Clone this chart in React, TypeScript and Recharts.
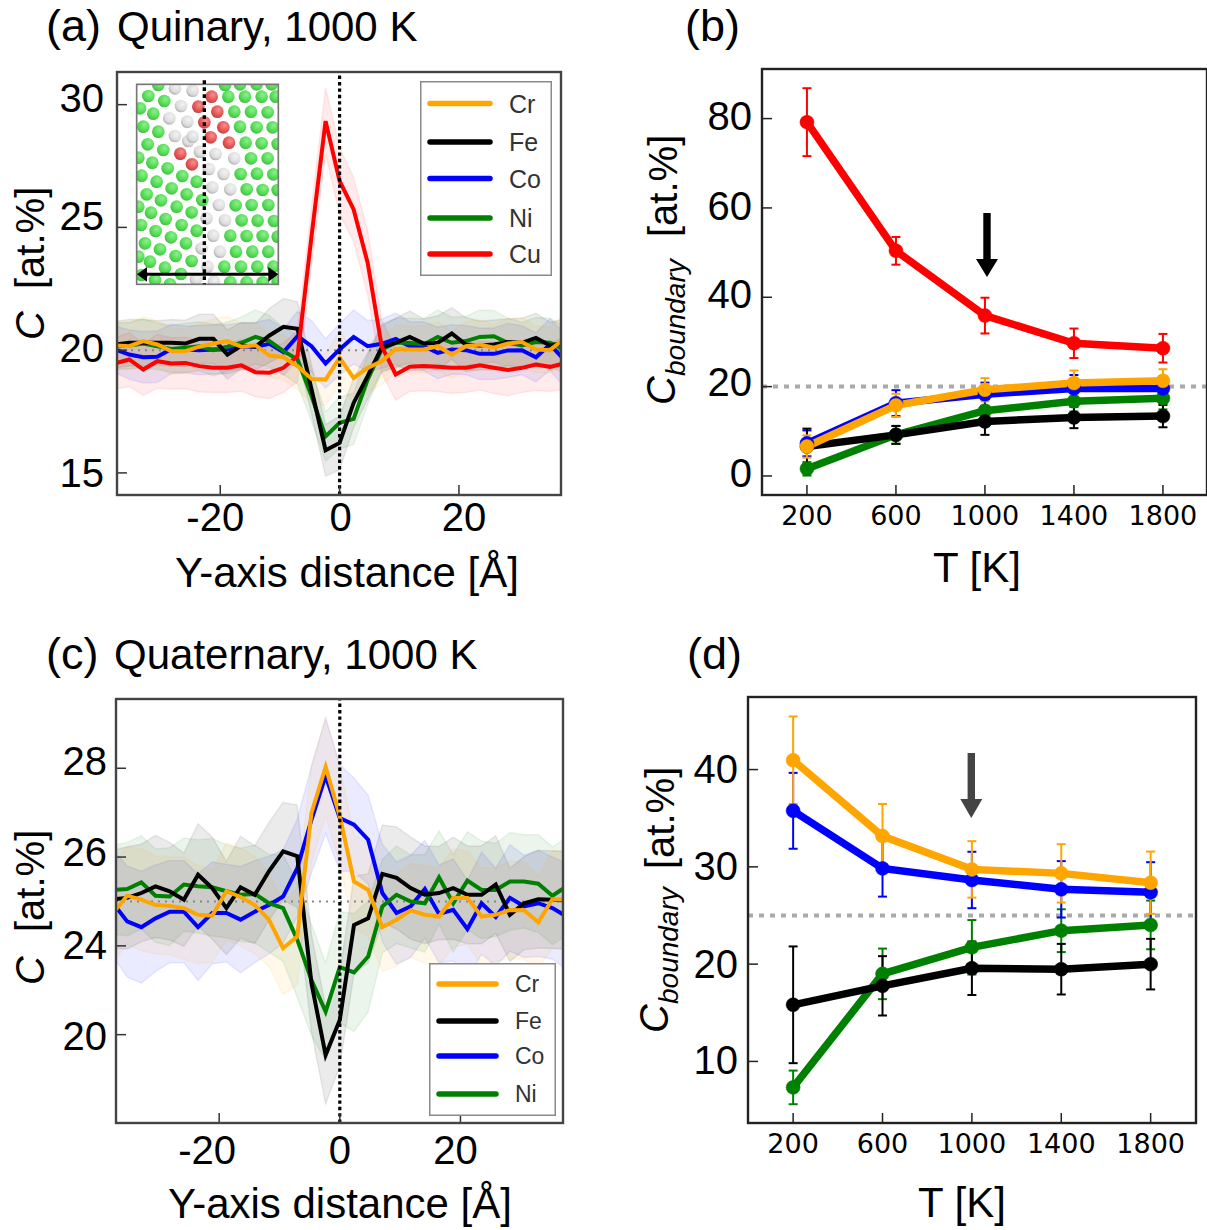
import { ComposedChart, Line, Area, XAxis, YAxis, ReferenceLine, ErrorBar, Legend } from "recharts";

const SANS = "Liberation Sans";
const DEJAVU = "DejaVu Sans";

const colors: Record<string, string> = { Cr: "#ffa500", Fe: "#000000", Co: "#0000ff", Ni: "#008000", Cu: "#ff0000" };

// distance along the boundary normal, one bin = 2.35 A
const distance = [
  -37.6, -35.25, -32.9, -30.55, -28.2, -25.85, -23.5, -21.15, -18.8, -16.45, -14.1, -11.75, -9.4, -7.05, -4.7, -2.35,
  0, 2.35, 4.7, 7.05, 9.4, 11.75, 14.1, 16.45, 18.8, 21.15, 23.5, 25.85, 28.2, 30.55, 32.9, 35.25, 37.6,
];

// (a) quinary profiles
const quinaryCr = [20.19, 20.16, 20.37, 20.23, 19.96, 19.96, 20.14, 20.27, 20.37, 20.14, 20.2, 19.78, 19.71, 19.35, 18.83, 18.8, 19.69, 18.87, 19.28, 19.55, 20.05, 20.03, 20.03, 20.16, 19.82, 20.16, 20.23, 20.1, 20.27, 20.33, 20.03, 20.0, 20.46];
const quinaryFe = [20.23, 20.3, 20.3, 20.3, 20.3, 20.27, 20.46, 20.46, 19.82, 20.19, 20.14, 20.6, 20.95, 20.87, 18.4, 15.92, 16.22, 17.85, 18.94, 20.1, 20.3, 20.54, 20.27, 20.3, 20.68, 20.23, 20.19, 20.23, 20.33, 20.3, 20.5, 20.19, 20.3];
const quinaryCo = [20.03, 19.82, 19.71, 19.73, 20.05, 20.03, 20.0, 20.03, 20.03, 20.16, 20.14, 20.26, 19.92, 20.57, 20.16, 19.46, 20.03, 20.54, 20.16, 20.26, 20.46, 20.16, 20.16, 19.89, 20.03, 20.0, 19.85, 19.85, 19.99, 20.0, 19.71, 20.23, 19.62];
const quinaryNi = [20.16, 20.19, 20.27, 20.16, 20.05, 20.1, 20.16, 20.0, 20.14, 20.3, 20.54, 20.37, 19.96, 19.62, 18.13, 16.49, 17.04, 17.2, 18.8, 20.03, 20.3, 20.3, 20.23, 20.54, 20.3, 20.37, 20.54, 20.57, 20.3, 20.19, 20.33, 20.3, 20.03];
const quinaryCu = [19.46, 19.62, 19.21, 19.55, 19.46, 19.48, 19.35, 19.28, 19.28, 19.38, 19.1, 19.08, 19.28, 19.76, 24.65, 29.33, 26.89, 25.73, 23.56, 20.16, 19.01, 19.32, 19.35, 19.32, 19.28, 19.28, 19.38, 19.28, 19.19, 19.28, 19.41, 19.32, 19.46];
const quinaryCrStd = [0.95, 0.95, 1.0, 0.95, 0.95, 0.9, 0.95, 1.0, 1.0, 0.95, 0.95, 0.9, 0.9, 0.95, 1.0, 1.05, 1.1, 1.05, 1.0, 0.95, 0.95, 0.95, 0.95, 1.0, 0.95, 1.0, 1.0, 0.95, 1.0, 1.0, 0.95, 0.95, 1.0];
const quinaryFeStd = [0.95, 0.95, 0.95, 0.9, 0.95, 0.95, 1.0, 1.0, 1.0, 0.95, 0.95, 1.1, 1.15, 1.1, 1.0, 1.05, 1.1, 1.0, 0.95, 0.95, 1.0, 1.05, 1.0, 1.1, 1.05, 1.1, 1.0, 1.0, 0.95, 1.0, 1.0, 0.95, 0.95];
const quinaryCoStd = [0.95, 1.0, 1.05, 1.05, 1.0, 0.95, 1.0, 1.0, 1.0, 0.95, 1.0, 1.0, 0.95, 1.0, 1.05, 1.0, 1.05, 1.1, 1.05, 1.0, 1.05, 1.0, 1.0, 1.05, 1.0, 1.0, 1.05, 1.05, 1.1, 1.0, 1.0, 1.05, 1.1];
const quinaryNiStd = [0.95, 0.95, 1.0, 0.95, 0.95, 1.0, 1.0, 1.05, 1.0, 1.05, 1.1, 1.05, 0.95, 1.0, 1.05, 1.0, 1.05, 1.05, 1.0, 0.95, 1.0, 1.0, 1.05, 1.1, 1.05, 1.0, 1.1, 1.05, 1.0, 0.95, 1.0, 1.0, 0.95];
const quinaryCuStd = [1.05, 1.1, 1.05, 1.1, 1.05, 1.05, 1.05, 1.0, 1.0, 1.05, 1.0, 1.05, 1.0, 1.05, 1.2, 1.35, 1.35, 1.3, 1.3, 1.1, 1.05, 1.0, 1.0, 1.0, 1.05, 1.0, 1.0, 1.05, 1.05, 1.0, 1.05, 1.0, 1.05];

// (c) quaternary profiles
const quaternaryCr = [24.74, 25.13, 25.04, 24.92, 24.9, 24.85, 24.7, 24.68, 25.23, 25.1, 24.92, 24.59, 23.95, 24.21, 26.99, 28.03, 26.92, 25.45, 25.26, 24.42, 24.59, 24.8, 24.7, 24.66, 25.08, 25.08, 24.66, 24.7, 24.81, 24.8, 24.53, 25.05, 25.04];
const quaternaryFe = [25.05, 25.08, 25.19, 25.34, 25.23, 25.04, 25.6, 25.3, 24.85, 25.32, 25.15, 25.68, 26.13, 26.02, 23.16, 21.54, 22.33, 24.47, 24.62, 25.62, 25.53, 25.3, 25.15, 25.19, 25.3, 25.15, 25.15, 25.38, 24.7, 24.96, 25.05, 25.04, 25.02];
const quaternaryCo = [24.96, 24.55, 24.42, 24.62, 24.77, 24.77, 24.42, 24.74, 24.74, 24.59, 24.77, 24.92, 25.11, 25.75, 26.84, 27.83, 26.88, 26.73, 26.39, 25.19, 24.74, 24.89, 25.28, 24.72, 24.81, 24.38, 24.96, 24.65, 25.08, 24.89, 24.96, 24.85, 24.66];
const quaternaryNi = [25.26, 25.28, 25.43, 25.13, 25.11, 25.38, 25.34, 25.32, 25.23, 25.15, 25.17, 24.96, 24.85, 24.14, 23.23, 22.52, 23.52, 23.4, 23.76, 24.89, 25.15, 25.0, 24.96, 25.54, 24.96, 25.47, 25.26, 25.26, 25.45, 25.45, 25.4, 25.13, 25.34];
const quaternaryCrStd = [1.1, 1.1, 1.15, 1.1, 1.1, 1.15, 1.1, 1.05, 1.1, 1.1, 1.1, 1.05, 1.05, 1.1, 1.1, 1.1, 1.1, 1.05, 1.05, 1.0, 1.05, 1.05, 1.1, 1.1, 1.1, 1.05, 1.1, 1.05, 1.1, 1.1, 1.05, 1.1, 1.1];
const quaternaryFeStd = [1.1, 1.15, 1.1, 1.15, 1.1, 1.05, 1.15, 1.15, 1.05, 1.15, 1.1, 1.1, 1.1, 1.15, 1.1, 1.1, 1.05, 1.1, 1.0, 1.1, 1.15, 1.15, 1.1, 1.05, 1.15, 1.1, 1.1, 1.1, 1.05, 1.05, 1.1, 1.1, 1.1];
const quaternaryCoStd = [1.2, 1.25, 1.26, 1.2, 1.15, 1.15, 1.2, 1.15, 1.1, 1.2, 1.15, 1.1, 1.05, 1.1, 1.2, 1.3, 1.2, 1.05, 1.0, 1.1, 1.15, 1.15, 1.1, 1.1, 1.15, 1.1, 1.15, 1.1, 1.2, 1.15, 1.2, 1.15, 1.2];
const quaternaryNiStd = [1.0, 1.05, 1.05, 1.05, 1.1, 1.05, 1.05, 1.1, 1.05, 1.05, 1.1, 1.1, 1.2, 1.3, 1.25, 1.1, 1.25, 1.33, 1.25, 1.05, 1.1, 1.05, 1.1, 1.05, 1.1, 1.1, 1.1, 1.05, 1.1, 1.05, 1.1, 1.1, 1.1];

// (b), (d) segregation against temperature
const temperature = [200, 600, 1000, 1400, 1800];
const boundaryQuinary: Record<string, number[]> = {
  Ni: [1.6, 9.2, 14.6, 16.7, 17.4],
  Co: [7.3, 16.3, 18.3, 19.6, 19.6],
  Fe: [6.6, 9.2, 12.2, 13.1, 13.4],
  Cu: [79.2, 50.4, 35.9, 29.7, 28.6],
  Cr: [6.6, 15.8, 19.3, 20.8, 21.3],
};
const boundaryQuinaryErr: Record<string, number[]> = {
  Ni: [1.5, 2.0, 2.5, 2.3, 2.5],
  Co: [2.9, 2.9, 2.6, 3.0, 2.7],
  Fe: [4.0, 2.0, 3.0, 2.4, 2.5],
  Cu: [7.6, 3.1, 4.0, 3.3, 3.2],
  Cr: [2.5, 2.6, 2.6, 2.8, 2.6],
};
const boundaryQuaternary: Record<string, number[]> = {
  Ni: [7.33, 19.0, 21.73, 23.44, 24.03],
  Co: [35.76, 29.84, 28.65, 27.69, 27.38],
  Fe: [15.82, 17.77, 19.58, 19.48, 20.0],
  Cr: [40.96, 33.16, 29.74, 29.33, 28.37],
};
const boundaryQuaternaryErr: Record<string, number[]> = {
  Ni: [1.73, 2.6, 2.8, 2.2, 2.5],
  Co: [3.9, 2.9, 2.9, 2.9, 3.1],
  Fe: [6.0, 3.05, 2.75, 2.6, 2.6],
  Cr: [4.5, 3.3, 2.9, 3.0, 3.2],
};

const xTicksProfile = [-20, 0, 20];
const yTicksQuinary = [15, 20, 25, 30];
const yTicksQuaternary = [22, 24, 26, 28];
// the published panel prints 20 on its lowest tick
const yTickTextQuaternary: Record<number, string> = { 22: "20", 24: "24", 26: "26", 28: "28" };
const xTicksTemp = [200, 600, 1000, 1400, 1800];
const yTicksBoundaryQuinary = [0, 20, 40, 60, 80];
const yTicksBoundaryQuaternary = [10, 20, 30, 40];

// labels in the figure sit a little off their ticks
const xShiftA: Record<number, number> = { [-20]: -5, 0: 1, 20: 5 };
const xShiftC: Record<number, number> = { [-20]: -12, 0: 0, 20: -5 };
const yShiftA: Record<number, number> = { 15: 0, 20: -3, 25: -12, 30: -7 };
const yShiftC: Record<number, number> = { 22: 1, 24: -1, 26: -5, 28: -8 };
const yShiftB: Record<number, number> = { 0: -3, 20: -5, 40: -4, 60: -2, 80: -3 };
const yShiftD: Record<number, number> = { 10: -2, 20: -1, 30: -1, 40: -1 };

// inset snapshot, atom centres in crop pixels
const atomsGreen = [[100, 30], [70, 63], [118, 78], [45, 100], [85, 116], [55, 155], [100, 170], [68, 208], [115, 225], [40, 248], [82, 263], [128, 280], [50, 302], [95, 320], [140, 340], [172, 303], [215, 320], [65, 358], [108, 376], [155, 395], [185, 358], [232, 375], [40, 395], [78, 413], [122, 432], [200, 412], [48, 450], [92, 468], [138, 487], [170, 450], [215, 467], [60, 505], [105, 523], [152, 543], [183, 505], [200, 558], [40, 545], [75, 560], [120, 578], [168, 597], [90, 615], [135, 628], [50, 600], [310, 65], [360, 65], [410, 65], [452, 65], [328, 110], [378, 110], [428, 112], [345, 155], [395, 157], [443, 157], [362, 203], [410, 205], [458, 207], [378, 250], [428, 250], [347, 297], [396, 296], [445, 298], [365, 343], [413, 345], [458, 345], [332, 391], [380, 390], [430, 390], [350, 436], [398, 437], [447, 438], [316, 482], [365, 483], [413, 483], [458, 485], [333, 530], [382, 530], [430, 530], [298, 575], [348, 575], [397, 575], [445, 575], [316, 622], [365, 622], [413, 622], [458, 620], [300, 30], [345, 28], [395, 28], [440, 28]];
const atomsGrey = [[150, 40], [203, 47], [168, 93], [133, 130], [187, 140], [150, 183], [190, 198], [203, 185], [225, 230], [272, 237], [328, 250], [252, 282], [296, 297], [262, 337], [316, 343], [282, 390], [245, 430], [300, 436], [265, 482], [230, 520], [285, 530], [248, 575], [213, 613], [267, 620]];
const atomsRed = [[260, 65], [220, 95], [277, 110], [238, 142], [295, 157], [257, 187], [312, 203], [166, 236], [201, 268]];

type Box = { left: number; right: number; top: number; bottom: number };

const boxA: Box = { left: 117, right: 561, top: 72, bottom: 495 };
const boxB: Box = { left: 762, right: 1207, top: 69, bottom: 495 };
const boxC: Box = { left: 116, right: 563, top: 699, bottom: 1123 };
const boxD: Box = { left: 748, right: 1196, top: 697, bottom: 1123 };

const PAD_L = 100;
const PAD_B = 70;
const PAD_T = 10;
const PAD_R = 10;

function profileTable(series: Record<string, number[]>, spread: Record<string, number[]>) {
  return distance.map((x, i) => {
    const row: Record<string, any> = { x };
    Object.keys(series).forEach((name) => {
      row[name] = series[name][i];
      row[name + "Band"] = [series[name][i] - spread[name][i], series[name][i] + spread[name][i]];
    });
    return row;
  });
}

function tempTable(series: Record<string, number[]>, errs: Record<string, number[]>) {
  return temperature.map((t, i) => {
    const row: Record<string, any> = { t };
    Object.keys(series).forEach((name) => {
      row[name] = series[name][i];
      row[name + "Err"] = errs[name][i];
    });
    return row;
  });
}

const wrapStyle = (box: Box): React.CSSProperties => ({
  position: "absolute",
  left: box.left - PAD_L,
  top: box.top - PAD_T,
});

const xTick = (font: string, size: number, shift?: Record<number, number>) => (p: any) => (
  <text x={p.x + (shift?.[p.payload.value] ?? 0)} y={p.y + size * 0.72} textAnchor="middle" fontFamily={font} fontSize={size} fill="#000">
    {p.payload.value}
  </text>
);

const yTick = (font: string, size: number, shift: Record<number, number>, label?: Record<number, string>) => (p: any) => (
  <text x={p.x} y={p.y + size * 0.36 + (shift[p.payload.value] ?? 0)} textAnchor="end" fontFamily={font} fontSize={size} fill="#000">
    {label ? label[p.payload.value] : p.payload.value}
  </text>
);

const LegendBox = ({ payload, order, rows, box, lineX, textX, fontSize }: any) => {
  const items = order.map((name: string) => payload.find((p: any) => p.value === name)).filter(Boolean);
  return (
    <svg width={box.w} height={box.h} style={{ display: "block" }}>
      <rect x={0.75} y={0.75} width={box.w - 1.5} height={box.h - 1.5} fill="#fff" stroke="#8a8a8a" strokeWidth={1.5} />
      {items.map((it: any, i: number) => (
        <g key={it.value}>
          <line x1={lineX[0]} x2={lineX[1]} y1={rows[i]} y2={rows[i]} stroke={it.color} strokeWidth={5.5} strokeLinecap="round" />
          <text x={textX} y={rows[i] + fontSize * 0.36} fontFamily={SANS} fontSize={fontSize} fill="#333">
            {it.value}
          </text>
        </g>
      ))}
    </svg>
  );
};

const ProfileChart = ({ box, series, spread, domainX, domainY, ticksY, tickText, midline, drawOrder, legendOrder, legend, xShift, yShift, xMargin, yMargin }: any) => {
  const data = profileTable(series, spread);
  return (
    <div style={wrapStyle(box)}>
      <ComposedChart
        width={box.right - box.left + PAD_L + PAD_R}
        height={box.bottom - box.top + PAD_T + PAD_B}
        data={data}
        margin={{ top: PAD_T, right: PAD_R, left: 0, bottom: 0 }}
      >
        <XAxis
          dataKey="x"
          type="number"
          domain={domainX}
          allowDataOverflow
          ticks={xTicksProfile}
          height={PAD_B}
          axisLine={false}
          tickSize={-10}
          tickMargin={xMargin}
          tickLine={{ stroke: "#333", strokeWidth: 1.5 }}
          tick={xTick(SANS, 40, xShift)}
          interval={0}
        />
        <YAxis
          type="number"
          domain={domainY}
          allowDataOverflow
          ticks={ticksY}
          width={PAD_L}
          axisLine={false}
          tickSize={-10}
          tickMargin={yMargin}
          tickLine={{ stroke: "#333", strokeWidth: 1.5 }}
          tick={yTick(SANS, 40, yShift, tickText)}
          interval={0}
        />
        {drawOrder.map((name: string) => (
          <Area
            key={name + "Band"}
            dataKey={name + "Band"}
            type="linear"
            stroke={colors[name]}
            strokeOpacity={0.08}
            strokeWidth={1.5}
            fill={colors[name]}
            fillOpacity={0.08}
            legendType="none"
            dot={false}
            activeDot={false}
            isAnimationActive={false}
          />
        ))}
        <ReferenceLine y={midline} stroke="#888" strokeWidth={2} strokeDasharray="2 5" />
        {drawOrder.map((name: string) => (
          <Line
            key={name}
            dataKey={name}
            name={name}
            type="linear"
            stroke={colors[name]}
            strokeWidth={4}
            dot={false}
            activeDot={false}
            isAnimationActive={false}
          />
        ))}
        <ReferenceLine x={0} stroke="#000" strokeWidth={3.2} strokeDasharray="3.4 3" />
        <Legend
          layout="horizontal"
          verticalAlign="middle"
          align="center"
          wrapperStyle={{ left: legend.left - box.left + PAD_L, top: legend.top - box.top + PAD_T, width: legend.w, height: legend.h }}
          content={(props: any) => (
            <LegendBox payload={props.payload} order={legendOrder} rows={legend.rows} box={legend} lineX={legend.lineX} textX={legend.textX} fontSize={legend.fontSize} />
          )}
        />
      </ComposedChart>
    </div>
  );
};

const TempChart = ({ box, series, errs, domainX, domainY, ticksY, midline, drawOrder, yShift }: any) => {
  const data = tempTable(series, errs);
  return (
    <div style={wrapStyle(box)}>
      <ComposedChart
        width={box.right - box.left + PAD_L + PAD_R}
        height={box.bottom - box.top + PAD_T + PAD_B}
        data={data}
        margin={{ top: PAD_T, right: PAD_R, left: 0, bottom: 0 }}
      >
        <XAxis
          dataKey="t"
          type="number"
          domain={domainX}
          allowDataOverflow
          ticks={xTicksTemp}
          height={PAD_B}
          axisLine={false}
          tickSize={-10}
          tickMargin={21}
          tickLine={{ stroke: "#222", strokeWidth: 1.5 }}
          tick={xTick(DEJAVU, 27)}
          interval={0}
        />
        <YAxis
          type="number"
          domain={domainY}
          allowDataOverflow
          ticks={ticksY}
          width={PAD_L}
          axisLine={false}
          tickSize={-10}
          tickMargin={20}
          tickLine={{ stroke: "#222", strokeWidth: 1.5 }}
          tick={yTick(SANS, 40, yShift)}
          interval={0}
        />
        <ReferenceLine y={midline} stroke="#aaa" strokeWidth={4} strokeDasharray="5 6" />
        {drawOrder.map((name: string) => (
          <Line
            key={name}
            dataKey={name}
            name={name}
            type="linear"
            stroke={colors[name]}
            strokeWidth={7.5}
            dot={{ r: 7, fill: colors[name], stroke: colors[name], strokeWidth: 0.5 }}
            activeDot={false}
            isAnimationActive={false}
          >
            <ErrorBar dataKey={name + "Err"} direction="y" width={4.5} strokeWidth={2} stroke={colors[name]} isAnimationActive={false} />
          </Line>
        ))}
      </ComposedChart>
    </div>
  );
};

const Atoms = ({ list, id }: { list: number[][]; id: string }) => (
  <>
    {list.map(([cx, cy], i) => (
      <circle key={i} cx={cx} cy={cy} r={19} fill={`url(#${id})`} />
    ))}
  </>
);

const Inset = () => (
  <g>
    <defs>
      <radialGradient id="atomGreen" cx="60%" cy="35%" r="70%">
        <stop offset="0%" stopColor="#8cf08c" />
        <stop offset="60%" stopColor="#55dd55" />
        <stop offset="100%" stopColor="#46b846" />
      </radialGradient>
      <radialGradient id="atomGrey" cx="60%" cy="35%" r="70%">
        <stop offset="0%" stopColor="#f2f2f2" />
        <stop offset="65%" stopColor="#dcdcdc" />
        <stop offset="100%" stopColor="#aaaaaa" />
      </radialGradient>
      <radialGradient id="atomRed" cx="60%" cy="35%" r="70%">
        <stop offset="0%" stopColor="#f59090" />
        <stop offset="60%" stopColor="#e85555" />
        <stop offset="100%" stopColor="#b84444" />
      </radialGradient>
      <clipPath id="insetClip">
        <rect x={35} y={28} width={425} height={600} />
      </clipPath>
    </defs>
    <g transform="translate(125 75) scale(0.3333)">
      <rect x={35} y={28} width={425} height={600} fill="#fff" />
      <g clipPath="url(#insetClip)">
        <Atoms list={atomsGreen} id="atomGreen" />
        <Atoms list={atomsGrey} id="atomGrey" />
        <Atoms list={atomsRed} id="atomRed" />
      </g>
      <rect x={35} y={28} width={425} height={600} fill="none" stroke="#777" strokeWidth={5} />
      <line x1={238} x2={238} y1={16} y2={628} stroke="#000" strokeWidth={10} strokeDasharray="11 10" />
      <line x1={55} x2={442} y1={598} y2={598} stroke="#000" strokeWidth={9} />
      <polygon points="36,598 66,576 66,620" fill="#000" />
      <polygon points="460,598 430,576 430,620" fill="#000" />
    </g>
  </g>
);

const DownArrow = ({ x, top, neck, tip, half, color }: any) => (
  <polygon
    points={`${x - 3.7},${top} ${x + 3.7},${top} ${x + 3.7},${neck} ${x + half},${neck} ${x},${tip} ${x - half},${neck} ${x - 3.7},${neck}`}
    fill={color}
  />
);

const Frame = ({ box, stroke }: { box: Box; stroke: string }) => (
  <rect x={box.left} y={box.top} width={box.right - box.left} height={box.bottom - box.top} fill="none" stroke={stroke} strokeWidth={2.4} />
);

const Label = ({ x, y, size = 42, font = SANS, children }: any) => (
  <text x={x} y={y} fontFamily={font} fontSize={size} fill="#000">
    {children}
  </text>
);

const Rot = ({ x, y, size = 40, italic = false, children }: any) => (
  <text transform={`translate(${x} ${y}) rotate(-90)`} fontFamily={SANS} fontSize={size} fontStyle={italic ? "italic" : "normal"} fill="#000">
    {children}
  </text>
);

const Overlay = () => (
  <svg width={1207} height={1230} style={{ position: "absolute", left: 0, top: 0, pointerEvents: "none" }}>
    <Frame box={boxA} stroke="#444" />
    <Frame box={boxB} stroke="#222" />
    <Frame box={boxC} stroke="#444" />
    <Frame box={boxD} stroke="#222" />
    <Inset />
    <DownArrow x={987} top={213} neck={259} tip={277} half={11} color="#000" />
    <DownArrow x={971.3} top={753} neck={799} tip={818} half={11} color="#444" />

    <Label x={46} y={41} size={45}>(a)</Label>
    <Label x={117} y={41}>Quinary, 1000 K</Label>
    <Label x={685} y={41} size={45}>(b)</Label>
    <Label x={46} y={669} size={45}>(c)</Label>
    <Label x={114} y={669}>Quaternary, 1000 K</Label>
    <Label x={687} y={669} size={45}>(d)</Label>

    <Label x={175} y={587}>Y-axis distance [Å]</Label>
    <Label x={168} y={1218}>Y-axis distance [Å]</Label>
    <Label x={933} y={582}>T [K]</Label>
    <Label x={918} y={1217}>T [K]</Label>

    <Rot x={44} y={340} italic>C</Rot>
    <Rot x={44} y={289}>[at.%]</Rot>
    <Rot x={44} y={985} italic>C</Rot>
    <Rot x={44} y={932}>[at.%]</Rot>

    <Rot x={675} y={405} italic>C</Rot>
    <Rot x={685} y={376} size={28} italic>boundary</Rot>
    <Rot x={677} y={237}>[at.%]</Rot>
    <Rot x={668} y={1033} italic>C</Rot>
    <Rot x={678} y={1004} size={28} italic>boundary</Rot>
    <Rot x={674} y={869}>[at.%]</Rot>
  </svg>
);

export default function App() {
  return (
    <div style={{ position: "absolute", left: 0, top: 0, width: 1207, height: 1230, background: "#fff" }}>
      <ProfileChart
        box={boxA}
        series={{ Cr: quinaryCr, Fe: quinaryFe, Co: quinaryCo, Ni: quinaryNi, Cu: quinaryCu }}
        spread={{ Cr: quinaryCrStd, Fe: quinaryFeStd, Co: quinaryCoStd, Ni: quinaryNiStd, Cu: quinaryCuStd }}
        domainX={[-37.3, 37.1]}
        domainY={[14.1, 31.33]}
        ticksY={yTicksQuinary}
        midline={20}
        drawOrder={["Co", "Ni", "Fe", "Cu", "Cr"]}
        legendOrder={["Cr", "Fe", "Co", "Ni", "Cu"]}
        legend={{ left: 420, top: 81, w: 132, h: 195, rows: [22.5, 61, 97.5, 137, 173], lineX: [10, 70], textX: 89, fontSize: 25 }}
        xShift={xShiftA}
        yShift={yShiftA}
        xMargin={17}
        yMargin={23}
      />
      <TempChart
        box={boxB}
        series={boundaryQuinary}
        errs={boundaryQuinaryErr}
        domainX={[-2, 1998]}
        domainY={[-4.26, 91.1]}
        ticksY={yTicksBoundaryQuinary}
        midline={20}
        drawOrder={["Ni", "Co", "Fe", "Cu", "Cr"]}
        yShift={yShiftB}
      />
      <ProfileChart
        box={boxC}
        series={{ Cr: quaternaryCr, Fe: quaternaryFe, Co: quaternaryCo, Ni: quaternaryNi }}
        spread={{ Cr: quaternaryCrStd, Fe: quaternaryFeStd, Co: quaternaryCoStd, Ni: quaternaryNiStd }}
        domainX={[-37.1, 37]}
        domainY={[20.01, 29.56]}
        ticksY={yTicksQuaternary}
        tickText={yTickTextQuaternary}
        midline={25}
        drawOrder={["Co", "Ni", "Fe", "Cr"]}
        legendOrder={["Cr", "Fe", "Co", "Ni"]}
        legend={{ left: 429, top: 963, w: 127, h: 153, rows: [21, 58, 93, 131], lineX: [10, 67], textX: 86, fontSize: 23 }}
        xShift={xShiftC}
        yShift={yShiftC}
        xMargin={22}
        yMargin={19}
      />
      <TempChart
        box={boxD}
        series={boundaryQuaternary}
        errs={boundaryQuaternaryErr}
        domainX={[-2, 2003]}
        domainY={[3.67, 47.46]}
        ticksY={yTicksBoundaryQuaternary}
        midline={25}
        drawOrder={["Ni", "Fe", "Co", "Cr"]}
        yShift={yShiftD}
      />
      <Overlay />
    </div>
  );
}
